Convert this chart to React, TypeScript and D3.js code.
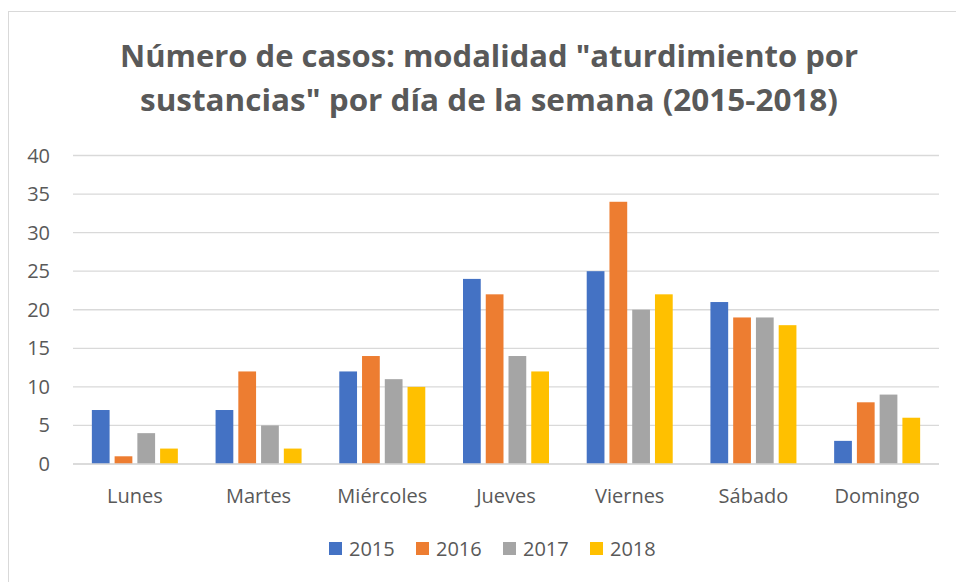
import React from "react";
import * as d3 from "d3";

const categories = ["Lunes", "Martes", "Miércoles", "Jueves", "Viernes", "Sábado", "Domingo"];
const seriesNames = ["2015", "2016", "2017", "2018"];
const values2015 = [7, 7, 12, 24, 25, 21, 3];
const values2016 = [1, 12, 14, 22, 34, 19, 8];
const values2017 = [4, 5, 11, 14, 20, 19, 9];
const values2018 = [2, 2, 10, 12, 22, 18, 6];
const yTicks = [0, 5, 10, 15, 20, 25, 30, 35, 40];
const titleLines = ['Número de casos: modalidad "aturdimiento por', 'sustancias" por día de la semana (2015-2018)'];

const colors = ["#4472C4", "#ED7D31", "#A5A5A5", "#FFC000"];
const seriesValues = [values2015, values2016, values2017, values2018];

export default function App() {
  const W = 956, H = 582;
  const left = 73, right = 939, top = 155.5, bottom = 464;
  const x0 = d3.scaleBand<string>().domain(categories).range([left, right]).padding(0);
  const y = d3.scaleLinear().domain([0, 40]).range([bottom, top]);
  const half = 43;
  const x1 = d3.scaleBand<string>().domain(seriesNames).range([-half, half]).paddingInner(0.22);
  const font = "'Open Sans', 'Noto Sans', sans-serif";
  const textColor = "#595959";
  const titleWidths = [738, 698];

  const legendX = [329, 416, 503, 590];

  return (
    <svg width={W} height={H} style={{ position: "absolute", left: 0, top: 0, background: "#fff" }} fontFamily={font}>
      <rect x={8.5} y={11.5} width={W} height={H} fill="#fff" stroke="#D9D9D9" strokeWidth={1} />
      {titleLines.map((t, i) => (
        <text
          key={i}
          x={489}
          y={67 + i * 44}
          textAnchor="middle"
          fontSize={30.5}
          fontWeight="bold"
          fill={textColor}
          textLength={titleWidths[i]}
          lengthAdjust="spacingAndGlyphs"
        >
          {t}
        </text>
      ))}
      {yTicks.map((t) => (
        <g key={t}>
          <line x1={left} x2={right} y1={y(t)} y2={y(t)} stroke="#D9D9D9" strokeWidth={1.3} />
          <text x={50} y={y(t) + 7} textAnchor="end" fontSize={20} fill={textColor}>
            {t}
          </text>
        </g>
      ))}
      {categories.map((c, ci) => {
        const cx = (x0(c) as number) + x0.bandwidth() / 2;
        return (
          <g key={c}>
            {seriesNames.map((s, si) => {
              const v = seriesValues[si][ci];
              return (
                <rect
                  key={s}
                  x={cx + (x1(s) as number)}
                  y={y(v)}
                  width={x1.bandwidth()}
                  height={y(0) - y(v)}
                  fill={colors[si]}
                />
              );
            })}
            <text x={cx} y={503} textAnchor="middle" fontSize={20} fill={textColor}>
              {c}
            </text>
          </g>
        );
      })}
      <line x1={left} x2={right} y1={y(0)} y2={y(0)} stroke="#D9D9D9" strokeWidth={1.3} />
      {seriesNames.map((s, si) => (
        <g key={s}>
          <rect x={legendX[si]} y={542} width={13} height={13} fill={colors[si]} />
          <text x={legendX[si] + 20} y={556} fontSize={20} fill={textColor}>
            {s}
          </text>
        </g>
      ))}
    </svg>
  );
}
